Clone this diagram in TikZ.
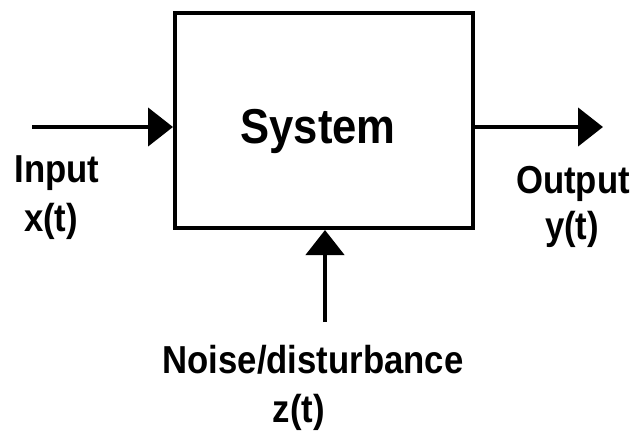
\documentclass[tikz,border=0pt]{standalone}
\usepackage{fontspec}
\setmainfont{Liberation Sans}[FakeStretch=0.89]
\usetikzlibrary{arrows.meta}
\tikzset{
  sysbox/.style={draw, line width=4pt, minimum width=298pt, minimum height=215pt, inner sep=0pt},
  flow/.style={line width=4.5pt, -{Triangle[length=25pt,width=38pt]}},
  lbl/.style={font=\fontsize{39pt}{44pt}\selectfont\bfseries, inner sep=0pt, anchor=base},
  title/.style={font=\fontsize{49pt}{54pt}\selectfont\bfseries, inner sep=0pt, anchor=base}
}
\begin{document}
\begin{tikzpicture}[x=1pt,y=-1pt]
\useasboundingbox[fill=white] (0,0) rectangle (634,433);
\node[sysbox] (box) at (324,120.5) {};
\node[title] (sys) at (318,143) {System};
\coordinate (in) at (32,127);
\coordinate (out) at (603,127);
\coordinate (nz) at (325,322);
\draw[flow] (in) -- (in -| box.west);
\draw[flow] (box.east |- out) -- (out);
\draw[flow] (nz) -- (nz |- box.south);
\node[lbl] (inp) at (57,182) {Input};
\node[lbl] (xt) at (51,231) {x(t)};
\node[lbl] (outp) at (573,193) {Output};
\node[lbl] (yt) at (572,239) {y(t)};
\node[lbl] (noise) at (313,373) {Noise/disturbance};
\node[lbl] (zt) at (299,422) {z(t)};
\end{tikzpicture}
\end{document}
